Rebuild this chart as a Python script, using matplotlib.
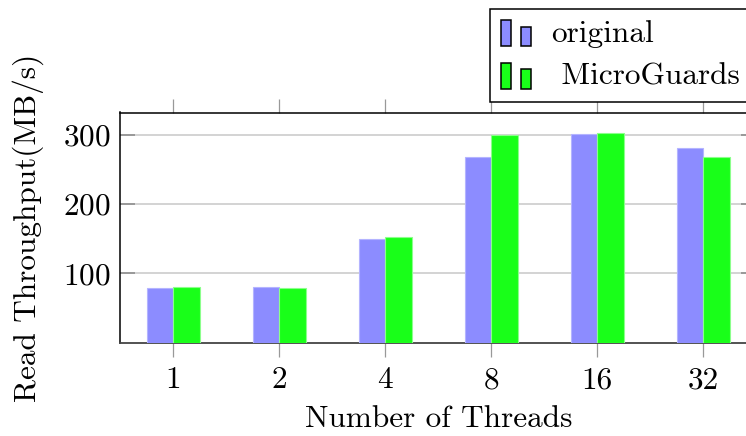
import matplotlib
matplotlib.use("Agg")
import matplotlib.pyplot as plt
import numpy as np
from matplotlib.patches import Rectangle
from matplotlib.legend_handler import HandlerBase

# thread counts on the x axis
threads = ["1", "2", "4", "8", "16", "32"]
# read throughput in MB/s
original = [78.5, 80.4, 150.2, 268.4, 301.0, 280.5]
microguards = [80.4, 78.5, 153.1, 299.6, 302.0, 268.0]
series_names = ["original", " MicroGuards"]

blue_fill, blue_edge = "#8c8cff", "#b4b4ff"
green_fill, green_edge = "#19ff19", "#8cff8c"

FS = 22.5
plt.rcParams["font.family"] = "cmr10"
plt.rcParams["mathtext.fontset"] = "cm"
plt.rcParams["axes.formatter.use_mathtext"] = True
plt.rcParams["axes.unicode_minus"] = False
plt.rcParams["font.size"] = FS


# pgfplots-style legend image: a tall bar next to a shorter one
class TwoBars(HandlerBase):
    def create_artists(self, legend, orig_handle, xdescent, ydescent,
                       width, height, fontsize, trans):
        fc = orig_handle.patches[0].get_facecolor()
        y0 = -ydescent - 3
        r1 = Rectangle((-xdescent, y0), 6.8, 18.8, facecolor=fc,
                       edgecolor="black", linewidth=1.1, transform=trans)
        r2 = Rectangle((-xdescent + 14.2, y0), 7.0, 14.2, facecolor=fc,
                       edgecolor="black", linewidth=1.1, transform=trans)
        return [r1, r2]


fig = plt.figure(figsize=(7.46, 4.36), dpi=100)
ax = fig.add_axes([120.3 / 746, 1 - 342.7 / 436, 636 / 746, 230.2 / 436])

x = np.arange(len(threads))
w = 0.25
b1 = ax.bar(x - w / 2, original, w, color=blue_fill, edgecolor=blue_edge,
            linewidth=0.8, label=series_names[0], zorder=3)
b2 = ax.bar(x + w / 2, microguards, w, color=green_fill, edgecolor=green_edge,
            linewidth=0.8, label=series_names[1], zorder=3)

ax.set_xlim(-0.5, 5.5)
ax.set_ylim(0, 332)
ax.set_xticks(x)
ax.set_xticklabels(threads)
ax.set_yticks([100, 200, 300])

ax.yaxis.grid(True, color="#c8c8c8", linewidth=1.1, zorder=0)
ax.set_axisbelow(True)

ax.tick_params(axis="x", which="both", direction="out", top=True,
               length=10, width=0.9, color="#999999", pad=7)
ax.tick_params(axis="y", which="both", direction="in", right=True,
               length=10.5, width=1.4, color="#999999", pad=7)

for s in ["left", "top", "right"]:
    ax.spines[s].set_color("black")
    ax.spines[s].set_linewidth(1.1)
ax.spines["bottom"].set_color("#444444")
ax.spines["bottom"].set_linewidth(1.3)

ax.set_xlabel("Number of Threads", labelpad=8)
ax.set_ylabel("Read Throughput(MB/s)", labelpad=14)

leg = ax.legend(handler_map={b1: TwoBars(), b2: TwoBars()},
                loc="upper left",
                bbox_to_anchor=(490 / 746, 1 - 9 / 436),
                bbox_transform=fig.transFigure, borderaxespad=0,
                fancybox=False, frameon=True, edgecolor="black",
                framealpha=1, handlelength=0.95, handletextpad=0.65,
                borderpad=0.36, labelspacing=0.46, fontsize=FS)
leg.get_frame().set_linewidth(1.1)

fig.savefig("out.png", dpi=100)
